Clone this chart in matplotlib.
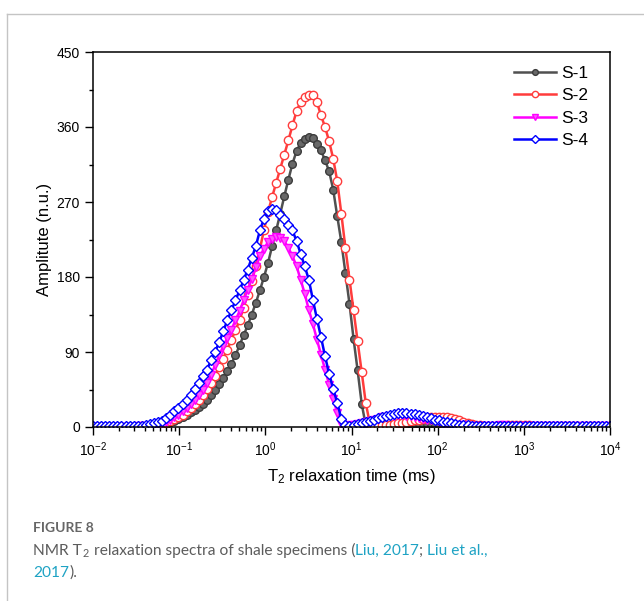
import numpy as np
import matplotlib
matplotlib.use('Agg')
import matplotlib.pyplot as plt
from matplotlib.lines import Line2D
from matplotlib.ticker import MultipleLocator, LogLocator

plt.rcParams['font.family'] = ['Liberation Sans', 'DejaVu Sans']
plt.rcParams['mathtext.default'] = 'regular'

# T2 grid of the instrument (128 log-spaced points, 0.01 - 10000 ms)
t2 = np.logspace(-2, 4, 128)

s1 = ([0.5] * 11 + [0.6, 0.7, 0.9, 1.1]
      + [1.5, 2, 3, 4, 5.5, 7.5]
      + [10, 12.5, 15, 18, 21, 24, 28, 33, 39, 45]
      + [52, 59, 67, 76, 86, 98, 110, 122, 135, 149]
      + [164, 180, 197, 217, 236, 256, 277, 297, 316, 331]
      + [341, 346, 348, 347, 340, 332, 320, 307, 285, 253]
      + [222, 185, 148, 106, 68, 28, 2]
      + [1, 1, 1.3, 1.6, 2, 2.3, 2.7, 3, 3.3, 3.5, 3.7, 3.8, 3.8, 3.7, 3.5,
         3.2, 2.8, 2.4, 2, 1.7, 1.4, 1.2]
      + [1] * 38)

s2 = ([0.5] * 11 + [0.6, 0.8, 1, 1.5, 2]
      + [2.5, 3.5, 5, 7, 9.5]
      + [12, 15, 19, 23, 28, 33, 39, 46, 53, 61]
      + [72, 82, 93, 105, 116, 128, 143, 159, 175, 193]
      + [214, 236, 258, 276, 293, 310, 327, 344, 362, 379]
      + [390, 396, 399, 398, 390, 374, 360, 343, 322, 295]
      + [256, 215, 177, 140, 103, 66, 29, 4]
      + [1, 1.5, 2, 2.5, 3, 3.5, 4.5, 5, 6, 7, 8, 9, 10, 10.5, 11.5, 12, 12,
         12, 11.5, 11, 9.5, 8, 6.5, 5, 3.5, 2.5, 2, 1.5, 1.2]
      + [1.1, 1.2, 1.5, 1.8, 2.1, 2.4, 2.6, 2.6, 2.4, 2.1, 1.8, 1.5, 1.3, 1.1]
      + [1] * 16)

s3 = ([0.5] * 11
      + [0.8, 1, 1.3, 1.8, 2.3, 3, 4.5, 6.5, 9, 12]
      + [15, 19, 23, 28, 33, 39, 45, 53, 63, 74]
      + [86, 97, 107, 117, 128, 139, 152, 165, 178, 192]
      + [205, 214, 222, 226, 228, 227, 223, 215, 205, 193]
      + [177, 160, 141, 124, 105, 87, 69, 51, 34, 17]
      + [4, 1.5, 2]
      + [3, 4, 5, 6, 7.5, 9, 10, 11.5, 12.5, 13.2, 13.8, 14, 14, 13.5, 13, 12,
         11, 10, 9, 8, 7, 6, 5, 4.2, 3.5, 3, 2.5, 2, 1.7, 1.4, 1.2]
      + [1.1, 1.2, 1.4, 1.6, 1.8, 1.9, 1.9, 1.8, 1.6, 1.4, 1.2, 1.1]
      + [1] * 21)

s4 = ([0.8] * 11
      + [1, 1.5, 2.5, 3.5, 4.5, 5.5, 7.5, 11, 15, 19]
      + [23, 28, 33, 39, 46, 53, 61, 69, 80, 90]
      + [102, 115, 128, 140, 152, 164, 176, 189, 203, 217]
      + [236, 250, 259, 262, 260, 255, 250, 243, 236, 223]
      + [208, 193, 177, 153, 130, 108, 85, 64, 46, 29]
      + [10, 2, 1.5]
      + [2.5, 3.5, 4.5, 6, 7.5, 9, 10.5, 12, 13.5, 15, 16, 16.8, 17, 16.8,
         16.2, 15.5, 14.5, 13.5, 12, 10.5, 9, 8, 6.5, 5.5, 4.5, 3.5, 3, 2.5,
         2, 1.6, 1.3]
      + [1] * 33)

labels = ['S-1', 'S-2', 'S-3', 'S-4']
series = [s1, s2, s3, s4]

fig = plt.figure(figsize=(6.44, 6.01), dpi=100)
ax = fig.add_axes([93 / 644, 1 - 427 / 601, 517 / 644, 375 / 601])

styles = [
    dict(color='#505050', marker='o', mfc='#686868', mec='#3c3c3c', ms=5.5),
    dict(color='#ff3c3c', marker='o', mfc='white', mec='#ff3c3c', ms=6),
    dict(color='#ff00ff', marker='v', mfc='#ff55ff', mec='#ff00ff', ms=6),
    dict(color='#0000ff', marker='D', mfc='white', mec='#0000ff', ms=5),
]
for y, lab, st in zip(series, labels, styles):
    ax.plot(t2, y, lw=1.8, mew=1, label=lab, **st)

ax.set_xscale('log')
ax.set_xlim(1e-2, 1e4)
ax.set_ylim(0, 450)
ax.yaxis.set_major_locator(MultipleLocator(90))
ax.yaxis.set_minor_locator(MultipleLocator(45))
ax.xaxis.set_major_locator(LogLocator(base=10, numticks=10))
ax.xaxis.set_minor_locator(LogLocator(base=10, subs=np.arange(2, 10), numticks=20))
ax.tick_params(which='both', direction='out', top=False, right=False,
               labelsize=10, width=1)
ax.tick_params(which='major', length=6)
ax.tick_params(which='minor', length=3)
for sp in ax.spines.values():
    sp.set_linewidth(1.1)

ax.set_ylabel('Amplitute (n.u.)', fontsize=12, labelpad=3)
ax.set_xlabel('T$_2$ relaxation time (ms)', fontsize=12, labelpad=6)

leg = ax.legend(loc='upper right', frameon=False, fontsize=12.5, handlelength=2.4,
                handletextpad=0.3, labelspacing=0.42, borderaxespad=0.4,
                bbox_to_anchor=(0.985, 1.0), markerscale=0.75)

# card border (top and left edges)
fig.add_artist(Line2D([7 / 644, 7 / 644], [0, 1 - 14 / 601],
                      color='#c4c4c4', lw=1, transform=fig.transFigure))
fig.add_artist(Line2D([7 / 644, 1], [1 - 14 / 601, 1 - 14 / 601],
                      color='#c4c4c4', lw=1, transform=fig.transFigure))

# caption
cap_font = ['Lato', 'DejaVu Sans']
grey = '#5c5c5c'
link = '#1fa3c4'
fig.text(33 / 644, 1 - 532 / 601, 'FIGURE 8', fontsize=10, color='#666666',
         family=cap_font, weight='bold')

renderer = fig.canvas.get_renderer()


def put_line(pieces, x, y):
    for s, c in pieces:
        t = fig.text(x, y, s, color=c, fontsize=11.2, family=cap_font)
        bb = t.get_window_extent(renderer)
        x += bb.width / fig.bbox.width


put_line([('NMR T', grey), ('$_2$', grey),
          (' relaxation spectra of shale specimens (', grey),
          ('Liu, 2017', link), ('; ', grey), ('Liu et al.,', link)],
         33 / 644, 1 - 555 / 601)
put_line([('2017', link), (').', grey)], 33 / 644, 1 - 577 / 601)

fig.savefig('out.png', dpi=100)
plt.close(fig)
